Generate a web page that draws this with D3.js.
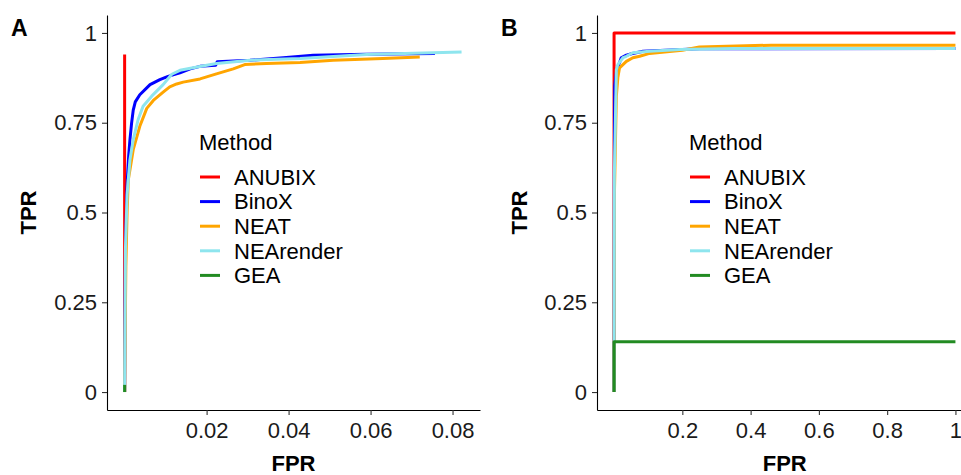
<!DOCTYPE html>
<html>
<head>
<meta charset="utf-8">
<title>ROC curves</title>
<script src="https://cdn.jsdelivr.net/npm/d3@7"></script>
<style>
  body { margin: 0; background: #fff; }
  svg { display: block; font-family: "Liberation Sans", Arial, Helvetica, sans-serif; }
  .axis text { font-size: 22px; fill: #1a1a1a; }
  .axis path { stroke: #000; stroke-width: 1.1; }
  .axis line { stroke: #333; stroke-width: 1.1; }
</style>
</head>
<body>
<svg id="chart" width="961" height="475"></svg>
<script>
// legend / series
const methods = ["ANUBIX", "BinoX", "NEAT", "NEArender", "GEA"];
const colors  = ["#ff0000", "#0000ff", "#ffa500", "#8ee5ee", "#228b22"];

// panel A : [FPR, TPR]
const anubixA = [[0, 0], [0, 0.94]];
const binoxA = [[0, 0], [0.0002, 0.40], [0.0006, 0.58], [0.0010, 0.66], [0.0013, 0.703], [0.0017, 0.749],
  [0.0021, 0.785], [0.0026, 0.808], [0.0037, 0.828], [0.0054, 0.847], [0.0062, 0.856], [0.0086, 0.870],
  [0.0106, 0.879], [0.0135, 0.889], [0.0160, 0.900], [0.0184, 0.907], [0.0222, 0.910], [0.0226, 0.920],
  [0.0306, 0.924], [0.0387, 0.931], [0.046, 0.938], [0.059, 0.941], [0.0757, 0.943]];
const neatA = [[0, 0], [0.0003, 0.35], [0.0006, 0.50], [0.0009, 0.591], [0.0021, 0.675], [0.0037, 0.740],
  [0.0054, 0.790], [0.007, 0.812], [0.0094, 0.835], [0.0110, 0.850], [0.0127, 0.858], [0.0143, 0.863],
  [0.0184, 0.872], [0.0224, 0.886], [0.0265, 0.900], [0.0293, 0.912], [0.0346, 0.915], [0.0428, 0.918],
  [0.0509, 0.924], [0.063, 0.929], [0.072, 0.933]];
const nearenderA = [[0, 0], [0.0002, 0.40], [0.0006, 0.55], [0.0013, 0.647], [0.0021, 0.703], [0.0033, 0.759],
  [0.0045, 0.796], [0.0066, 0.824], [0.0094, 0.856], [0.0115, 0.885], [0.0135, 0.896], [0.0167, 0.903],
  [0.0224, 0.915], [0.0306, 0.924], [0.0428, 0.929], [0.059, 0.940], [0.0822, 0.947]];
const geaA = [[0, 0], [0, 0.02]];

// panel B : [FPR, TPR]
const anubixB = [[0, 0], [0, 1], [1, 1]];
const binoxB = [[0, 0], [0.0008, 0.60], [0.0018, 0.852], [0.008, 0.90], [0.016, 0.917], [0.021, 0.931],
  [0.036, 0.938], [0.051, 0.942], [0.085, 0.949], [0.25, 0.956], [1, 0.957]];
const neatB = [[0, 0], [0.001, 0.55], [0.0067, 0.824], [0.011, 0.875], [0.016, 0.903], [0.026, 0.912],
  [0.036, 0.921], [0.055, 0.931], [0.075, 0.935], [0.104, 0.943], [0.2, 0.952], [0.25, 0.961],
  [0.46, 0.966], [1, 0.966]];
const nearenderB = [[0, 0], [0.0008, 0.60], [0.0067, 0.898], [0.011, 0.912], [0.026, 0.931], [0.036, 0.935],
  [0.055, 0.945], [0.104, 0.949], [0.192, 0.954], [0.348, 0.957], [1, 0.957]];
const geaB = [[0, 0], [0, 0.14], [1, 0.14]];

const yTicks = [0, 0.25, 0.5, 0.75, 1];
const xTicksA = [0.02, 0.04, 0.06, 0.08];
const xTicksB = [0.2, 0.4, 0.6, 0.8, 1];

const svg = d3.select("#chart");

function panel(o) {
  const x = d3.scaleLinear().domain(o.xdom).range([o.left, o.right]);
  const y = d3.scaleLinear().domain([-0.05, 1.05]).range([410, 15]);
  const g = svg.append("g");

  g.append("g").attr("class", "axis")
    .attr("transform", "translate(0,410)")
    .call(d3.axisBottom(x).tickValues(o.xticks).tickSize(5).tickSizeOuter(0).tickPadding(7)
      .tickFormat(d3.format("~g")));
  g.append("g").attr("class", "axis")
    .attr("transform", `translate(${o.left},0)`)
    .call(d3.axisLeft(y).tickValues(yTicks).tickSize(5).tickSizeOuter(0).tickPadding(5)
      .tickFormat(d3.format("~g")));

  const line = d3.line().x(d => x(d[0])).y(d => y(d[1]));
  g.selectAll("path.roc").data(o.series).enter().append("path")
    .attr("class", "roc")
    .attr("d", line)
    .attr("fill", "none")
    .attr("stroke", (d, i) => colors[i])
    .attr("stroke-width", 3)
    .attr("stroke-linejoin", "round");

  // titles
  g.append("text").attr("x", (o.left + o.right) / 2).attr("y", 471)
    .attr("text-anchor", "middle").attr("font-size", 22).attr("font-weight", "bold").text("FPR");
  g.append("text").attr("transform", `translate(${o.tprX},212.5) rotate(-90)`)
    .attr("text-anchor", "middle").attr("font-size", 22).attr("font-weight", "bold").text("TPR");
  g.append("text").attr("x", o.tagX).attr("y", 36)
    .attr("font-size", 23).attr("font-weight", "bold").text(o.tag);

  // legend
  const lg = g.append("g").attr("transform", `translate(${o.legX},0)`);
  lg.append("text").attr("x", 0).attr("y", 142).attr("dy", "0.35em").attr("font-size", 22).text("Method");
  const row = lg.selectAll("g.key").data(methods).enter().append("g")
    .attr("transform", (d, i) => `translate(0,${177 + i * 24.6})`);
  row.append("line").attr("x1", 1).attr("x2", 21)
    .attr("stroke", (d, i) => colors[i]).attr("stroke-width", 3);
  row.append("text").attr("x", 35).attr("dy", "0.35em").attr("font-size", 22).text(d => d);
}

panel({ left: 107, right: 480, xdom: [-0.0043, 0.0867], xticks: xTicksA,
  series: [anubixA, binoxA, neatA, nearenderA, geaA], tag: "A", tagX: 11, tprX: 36, legX: 199 });
panel({ left: 597, right: 972.5, xdom: [-0.05, 1.05], xticks: xTicksB,
  series: [anubixB, binoxB, neatB, nearenderB, geaB], tag: "B", tagX: 501, tprX: 527, legX: 689 });
</script>
</body>
</html>
